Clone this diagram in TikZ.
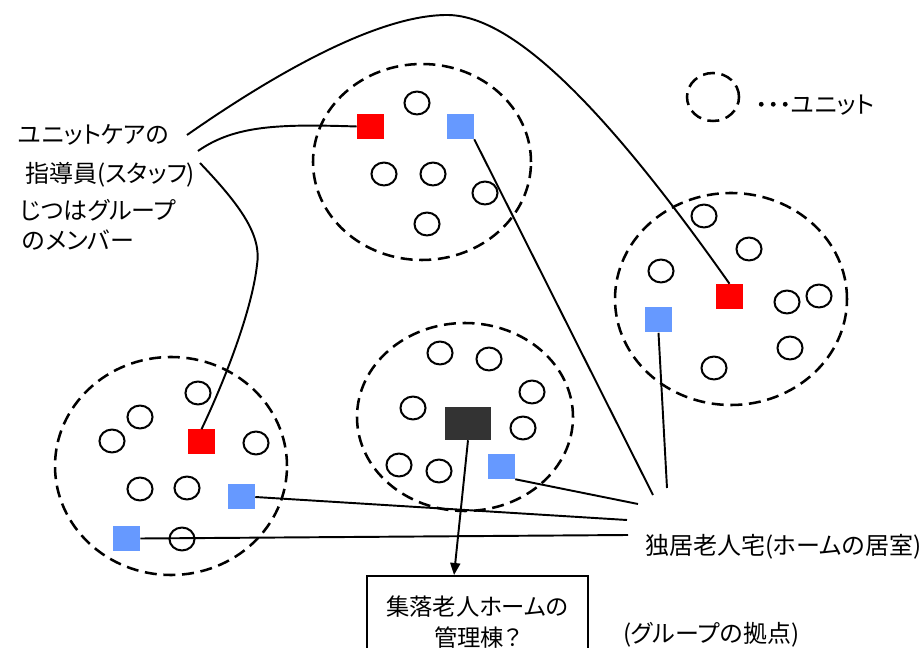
\documentclass[tikz,border=0pt]{standalone}
\usepackage{fontspec}
\newfontfamily\jp[RawFeature=+palt]{Noto Sans CJK JP}
\newfontfamily\jpb[RawFeature=+palt, FakeBold=3]{Noto Sans CJK JP}
\usetikzlibrary{arrows.meta}
\definecolor{rsq}{HTML}{FF0000}
\definecolor{bsq}{HTML}{6699FF}
\definecolor{dsq}{HTML}{333333}
\begin{document}
\begin{tikzpicture}[x=0.75pt,y=-0.75pt,
  unitc/.style={dash pattern=on 9pt off 5pt, line width=1.9pt},
  res/.style={line width=1.5pt},
  sq/.style={inner sep=0pt, minimum width=20.25pt, minimum height=18.75pt},
  redsq/.style={sq, fill=rsq},
  bluesq/.style={sq, fill=bsq},
  conn/.style={line width=1.45pt},
  lbl/.style={inner sep=0pt, anchor=west, font=\jp\fontsize{18}{21}\selectfont},
]
\useasboundingbox (0,0) rectangle (922,648);
\clip (0,0) rectangle (922,648);
\fill[white] (0,0) rectangle (922,648);

% units (dashed)
\draw[unitc] (422,162) ellipse [x radius=81.75pt, y radius=73.5pt];
\draw[unitc] (731,299) ellipse [x radius=87pt, y radius=79.5pt];
\draw[unitc] (465,417) ellipse [x radius=81pt, y radius=70.5pt];
\draw[unitc] (171,466) ellipse [x radius=87pt, y radius=81.75pt];
\draw[unitc] (713,97) ellipse [x radius=19.5pt, y radius=18pt];

% residents (small circles)
\foreach \p in {(417,103),(384,174),(433,174),(485,193),(427,224),
                (198,393),(140,417),(112,441),(256,443),(140,489),(187,488),(182,539),
                (704,216),(749,249),(661,271),(787,302),(819,296),(790,348),(714,368),
                (440,353),(489,359),(532,392),(413,408),(523,428),(399,465),(439,471)}
  \draw[res] \p ellipse [x radius=9.4pt, y radius=8.6pt];

% squares
\node[redsq] (tR) at (370.5,126.5) {};
\node[bluesq] (tB) at (460.5,126.5) {};
\node[redsq] (rR) at (729.5,296.5) {};
\node[bluesq] (rB) at (658.5,320) {};
\node[fill=dsq, inner sep=0pt, minimum width=34.5pt, minimum height=24.75pt] (mD) at (468,423.5) {};
\node[bluesq] (mB) at (501.5,466.5) {};
\node[redsq] (bR) at (201.5,442) {};
\node[bluesq] (bB1) at (241.5,497) {};
\node[bluesq] (bB2) at (126.5,538.5) {};

% box
\node[draw, line width=1.5pt, inner sep=0pt, minimum width=165.75pt, minimum height=63.75pt, anchor=north] (box) at (477.5,575) {};
\node[lbl, anchor=center, align=center, font=\jp\fontsize{17.5}{23.5}\selectfont] (boxtxt) at (477.5,622) {集落老人ホームの\\管理棟？};

% labels
\node[lbl] (l1) at (18,135) {ユニットケアの};
\node[lbl] (l2) at (25,175) {指導員(スタッフ)};
\node[lbl] (l3) at (20,210) {じつはグループ};
\node[lbl] (l4) at (22,240) {のメンバー};
\node[lbl] (home) at (645,547) {独居老人宅(ホームの居室)};
\node[lbl] (base) at (623,635) {(グループの拠点)};
\node[lbl] (legend) at (755,105) {{\jpb ･･･}ユニット};

% free ends
\coordinate (s1) at (187,135);
\coordinate (s2) at (198,151);
\coordinate (s3) at (200,163);
\coordinate (h1) at (653,495);
\coordinate (h2) at (667,488);
\coordinate (h3) at (638,504);
\coordinate (h4) at (627,520);
\coordinate (h5) at (628,535);

% connectors
\draw[conn] (s1) .. controls (280,70) and (380,15) .. (447,15) .. controls (510,15) and (600,100) .. (rR.north);
\draw[conn] (s2) .. controls (235,125) and (280,124) .. (tR.west);
\draw[conn] (s3) .. controls (240,205) and (262,235) .. (257,265) .. controls (252,310) and (225,380) .. (bR.north);
\draw[conn] (tB.south east) -- (h1);
\draw[conn] (rB.south) -- (h2);
\draw[conn] (mB.south east) -- (h3);
\draw[conn] (bB1.east) -- (h4);
\draw[conn] (bB2.east) -- (h5);
\draw[conn, -{Triangle[length=9pt,width=7.5pt]}] (mD.south) -- ([xshift=-17.6pt]box.north);
\end{tikzpicture}
\end{document}
